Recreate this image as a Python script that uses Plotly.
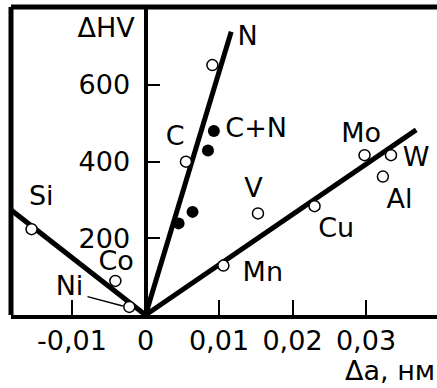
import plotly.graph_objects as go

# open points (elements)
open_names = ["N", "C", "Si", "Co", "Ni", "Mn", "V", "Cu", "Mo", "W", "Al"]
open_x = [0.0091, 0.0055, -0.0155, -0.0041, -0.0022, 0.0106, 0.0153, 0.0230, 0.0298, 0.0334, 0.0323]
open_y = [652, 400, 224, 89, 21, 129, 265, 284, 417, 417, 361]

# filled points (C+N)
cn_x = [0.0093, 0.0085, 0.0064, 0.0045]
cn_y = [480, 429, 269, 239]

# fitted lines through origin
line_n_x = [0, 0.01166]
line_n_y = [0, 739]
line_r_x = [0, 0.03683]
line_r_y = [0, 483]
line_l_x = [0, -0.0185]
line_l_y = [0, 277]

# Ni leader line
ni_lead_x = [-0.00789, -0.00309]
ni_lead_y = [48, 23.5]

# labels
lab_text = ["N", "C", "C+N", "Mo", "W", "Al", "V", "Cu", "Mn", "Si", "Co", "Ni", "ΔHV"]
lab_x = [0.01388, 0.00404, 0.01506, 0.02935, 0.03683, 0.03456, 0.01469, 0.02594, 0.01596, -0.01419, -0.00399, -0.01034, -0.00535]
lab_y = [723, 462, 483, 470, 407, 296, 326, 222, 106, 304, 134, 70, 743]

x_tickvals = [-0.01, 0, 0.01, 0.02, 0.03]
x_ticktext = ["-0,01", "0", "0,01", "0,02", "0,03"]
y_tickvals = [200, 400, 600]
y_ticktext = ["200", "400", "600"]
x_title = "Δa, нм"

FONT = "DejaVu Sans"
FS = 27

fig = go.Figure()
for lx, ly in [(line_n_x, line_n_y), (line_r_x, line_r_y), (line_l_x, line_l_y)]:
    fig.add_trace(go.Scatter(x=lx, y=ly, mode="lines", line=dict(color="black", width=5),
                             hoverinfo="skip", showlegend=False))
fig.add_trace(go.Scatter(x=ni_lead_x, y=ni_lead_y, mode="lines", line=dict(color="black", width=1.5),
                         showlegend=False))
fig.add_trace(go.Scatter(x=open_x, y=open_y, mode="markers", text=open_names,
                         marker=dict(symbol="circle", size=11, color="white",
                                     line=dict(color="black", width=1.5)),
                         showlegend=False))
fig.add_trace(go.Scatter(x=cn_x, y=cn_y, mode="markers",
                         marker=dict(symbol="circle", size=12, color="black"),
                         showlegend=False))
fig.add_trace(go.Scatter(x=lab_x, y=lab_y, mode="text", text=lab_text,
                         textposition="middle center",
                         textfont=dict(family=FONT, size=FS, color="black"),
                         showlegend=False))

x0px = 145.5
pxper = 7350.0
left_m = 11
W, H = 437, 388
xr = [(left_m - x0px) / pxper, (W - x0px) / pxper]
ypx_per = 0.38333
top_m, bot_m = 7, 73
yr = [0, (H - bot_m - top_m) / ypx_per]

fig.update_layout(
    width=W, height=H,
    margin=dict(l=left_m, r=0, t=top_m, b=bot_m, pad=0),
    paper_bgcolor="white", plot_bgcolor="white",
    font=dict(family=FONT, size=FS, color="black"),
    xaxis=dict(range=xr, showgrid=False, zeroline=False, showline=True,
               linecolor="black", linewidth=4, ticks="inside", ticklen=15,
               tickwidth=2, tickcolor="black", tickvals=x_tickvals, ticktext=x_ticktext,
               ticklabelstandoff=-1, tickfont=dict(family=FONT, size=FS)),
    yaxis=dict(range=yr, showgrid=False, zeroline=False, showline=True,
               anchor="free", position=(x0px - left_m) / (W - left_m),
               linecolor="black", linewidth=4, ticks="inside", ticklen=12,
               tickwidth=2, tickcolor="black", tickvals=y_tickvals, ticktext=y_ticktext,
               ticklabelstandoff=8, tickfont=dict(family=FONT, size=FS)),
    shapes=[
        dict(type="line", xref="paper", yref="paper", x0=0, x1=0, y0=0, y1=1,
             line=dict(color="black", width=5)),
        dict(type="line", xref="paper", yref="paper", x0=0, x1=1, y0=1, y1=1,
             line=dict(color="black", width=5)),
    ],
    annotations=[dict(text=x_title, xref="paper", yref="paper", x=1, y=0,
                      xanchor="right", yanchor="top", yshift=-38, showarrow=False,
                      font=dict(family=FONT, size=FS, color="black"))],
)
fig.write_html("out.html", config={"displayModeBar": False},
               post_script="document.body.style.margin='0';document.body.style.overflow='hidden';")
